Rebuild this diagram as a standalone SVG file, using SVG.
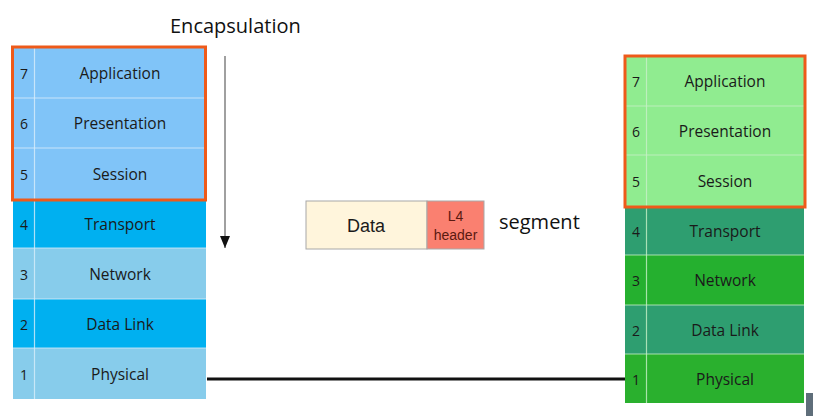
<svg xmlns="http://www.w3.org/2000/svg" width="813" height="416" viewBox="0 0 813 416">
<style>
.lbl{font-family:"Open Sans","DejaVu Sans",sans-serif;font-size:15.5px;fill:#1a1a1a;text-anchor:middle;dominant-baseline:central}
.num{font-family:"Open Sans","DejaVu Sans",sans-serif;font-size:14px;fill:#1a1a1a;text-anchor:middle;dominant-baseline:central}
.sep{stroke:#d8eefa;stroke-width:1.2;stroke-opacity:0.8}
.sepg{stroke:#c8f0c8;stroke-width:1.2;stroke-opacity:0.8}
.frame{fill:none;stroke:#EE5A1A;stroke-width:3}
.hand{font-family:"Open Sans","DejaVu Sans",sans-serif;font-size:20px;fill:#111}
</style>
<defs>
<marker id="ah" markerWidth="12" markerHeight="10" refX="12" refY="5" orient="auto" markerUnits="userSpaceOnUse" viewBox="0 0 12 10">
<path d="M0,0 L12,5 L0,10 Z" fill="#111"/>
</marker>
</defs>
<rect width="813" height="416" fill="#ffffff"/>

<g id="left-stack">
<g id="L7"><rect x="13" y="48" width="193" height="50" fill="#80C4F8"/><text class="num" x="24" y="73">7</text><text class="lbl" x="120" y="73">Application</text></g>
<g id="L6"><rect x="13" y="98" width="193" height="50" fill="#80C4F8"/><text class="num" x="24" y="123">6</text><text class="lbl" x="120" y="123">Presentation</text></g>
<g id="L5"><rect x="13" y="148" width="193" height="51" fill="#80C4F8"/><text class="num" x="24" y="174">5</text><text class="lbl" x="120" y="174">Session</text></g>
<g id="L4"><rect x="13" y="199" width="193" height="49" fill="#00B0F0"/><text class="num" x="24" y="224">4</text><text class="lbl" x="120" y="224">Transport</text></g>
<g id="L3"><rect x="13" y="248" width="193" height="51" fill="#87CCEB"/><text class="num" x="24" y="274">3</text><text class="lbl" x="120" y="274">Network</text></g>
<g id="L2"><rect x="13" y="299" width="193" height="49" fill="#00B0F0"/><text class="num" x="24" y="324">2</text><text class="lbl" x="120" y="324">Data Link</text></g>
<g id="L1"><rect x="13" y="348" width="193" height="51" fill="#87CCEB"/><text class="num" x="24" y="374">1</text><text class="lbl" x="120" y="374">Physical</text></g>
<line class="sep" x1="34.5" y1="48" x2="34.5" y2="399"/>
<line class="sep" x1="13" y1="98" x2="206" y2="98"/>
<line class="sep" x1="13" y1="148" x2="206" y2="148"/>
<line class="sep" x1="13" y1="248" x2="206" y2="248"/>
<line class="sep" x1="13" y1="299" x2="206" y2="299"/>
<line class="sep" x1="13" y1="348" x2="206" y2="348"/>
<rect class="frame" x="12.5" y="47" width="193" height="153"/>
</g>

<g id="right-stack">
<g id="R7"><rect x="625" y="56" width="179" height="50" fill="#90EC90"/><text class="num" x="636" y="81">7</text><text class="lbl" x="725" y="81">Application</text></g>
<g id="R6"><rect x="625" y="106" width="179" height="49" fill="#90EC90"/><text class="num" x="636" y="131">6</text><text class="lbl" x="725" y="131">Presentation</text></g>
<g id="R5"><rect x="625" y="155" width="179" height="52" fill="#90EC90"/><text class="num" x="636" y="181">5</text><text class="lbl" x="725" y="181">Session</text></g>
<g id="R4"><rect x="625" y="207" width="179" height="48" fill="#2E9E70"/><text class="num" x="636" y="231">4</text><text class="lbl" x="725" y="231">Transport</text></g>
<g id="R3"><rect x="625" y="255" width="179" height="50" fill="#25B02F"/><text class="num" x="636" y="280">3</text><text class="lbl" x="725" y="280">Network</text></g>
<g id="R2"><rect x="625" y="305" width="179" height="49" fill="#2E9E70"/><text class="num" x="636" y="330">2</text><text class="lbl" x="725" y="330">Data Link</text></g>
<g id="R1"><rect x="625" y="354" width="179" height="49" fill="#2AB02E"/><text class="num" x="636" y="379">1</text><text class="lbl" x="725" y="379">Physical</text></g>
<line class="sepg" x1="646.5" y1="56" x2="646.5" y2="403"/>
<line class="sepg" x1="625" y1="106" x2="804" y2="106"/>
<line class="sepg" x1="625" y1="155" x2="804" y2="155"/>
<line class="sepg" x1="625" y1="255" x2="804" y2="255"/>
<line class="sepg" x1="625" y1="305" x2="804" y2="305"/>
<line class="sepg" x1="625" y1="354" x2="804" y2="354"/>
<rect class="frame" x="625" y="56" width="180" height="151"/>
</g>

<g id="encapsulation">
<text class="hand" x="170" y="33">Encapsulation</text>
</g>

<g id="segment">
<rect x="306" y="201" width="121" height="48" fill="#FFF5DC" stroke="#a8a8a8" stroke-width="1"/>
<text x="366" y="226" font-family="Liberation Sans, Arial, sans-serif" font-size="18" fill="#1a1a1a" text-anchor="middle" dominant-baseline="central">Data</text>
<rect x="427" y="201" width="57" height="48" fill="#FA8070" stroke="#a8a8a8" stroke-width="1"/>
<text x="455.5" y="216" font-family="Liberation Sans, Arial, sans-serif" font-size="14" fill="#5a1a10" text-anchor="middle" dominant-baseline="central">L4</text>
<text x="455.5" y="235" font-family="Liberation Sans, Arial, sans-serif" font-size="14" fill="#5a1a10" text-anchor="middle" dominant-baseline="central">header</text>
<text class="hand" x="499" y="229">segment</text>
</g>

<g id="connectors">
<line x1="225" y1="56" x2="225" y2="248" stroke="#a0a0a0" stroke-width="2" marker-end="url(#ah)"/>
<line x1="207" y1="379" x2="625" y2="379" stroke="#111" stroke-width="3"/>
</g>

<rect x="806" y="393" width="7" height="23" fill="#5f6e7a"/>
</svg>
